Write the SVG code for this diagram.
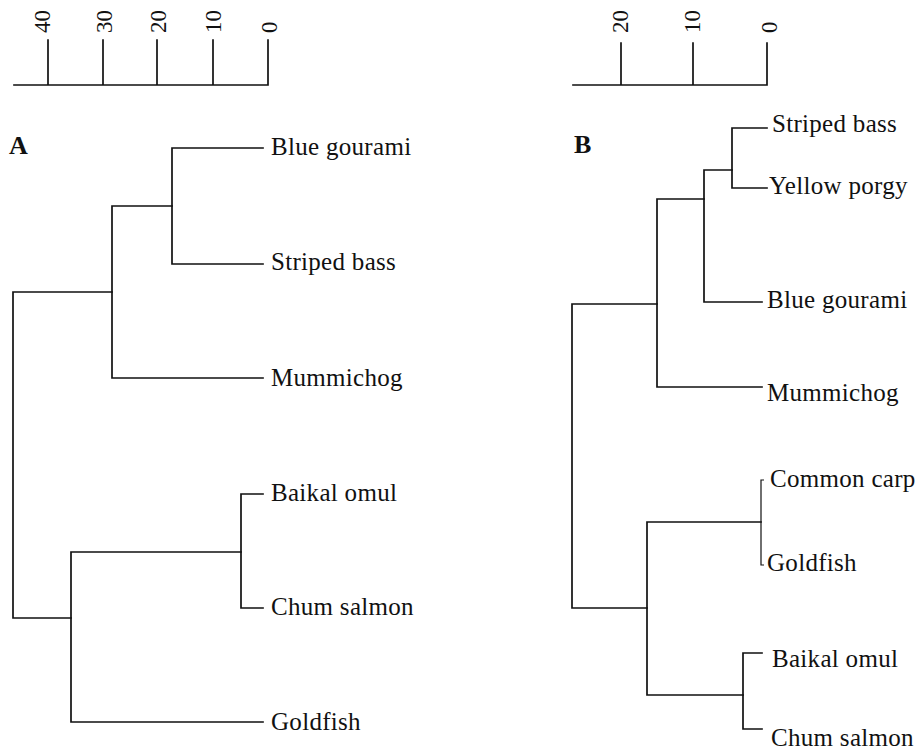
<svg xmlns="http://www.w3.org/2000/svg" width="921" height="750" viewBox="0 0 921 750">
<style>
  .ln { stroke: #111; stroke-width: 1.7; fill: none; stroke-linecap: square; }
  .thin { stroke: #111; stroke-width: 1.2; fill: none; }
  .lbl { font-family: "Liberation Serif", "Times New Roman", serif; font-size: 25px; fill: #111; letter-spacing: 0.3px; }
  .num { font-family: "Liberation Serif", "Times New Roman", serif; font-size: 23px; fill: #111; }
  .panel { font-family: "Liberation Serif", "Times New Roman", serif; font-size: 26px; font-weight: bold; fill: #111; }
</style>
<rect width="921" height="750" fill="#fff"/>

<!-- Scale A -->
<g id="scaleA">
  <path class="ln" d="M14 85 H268 M48 85 V40 M103 85 V40 M157 85 V40 M213 85 V40 M268 85 V40"/>
  <text class="num" transform="translate(50,33) rotate(-90)">40</text>
  <text class="num" transform="translate(112,33) rotate(-90)">30</text>
  <text class="num" transform="translate(166,33) rotate(-90)">20</text>
  <text class="num" transform="translate(221,33) rotate(-90)">10</text>
  <text class="num" transform="translate(277,33) rotate(-90)">0</text>
</g>

<!-- Scale B -->
<g id="scaleB">
  <path class="ln" d="M573 85 H767 M621 85 V43 M693 85 V43 M767 85 V43"/>
  <text class="num" transform="translate(628,33) rotate(-90)">20</text>
  <text class="num" transform="translate(700,33) rotate(-90)">10</text>
  <text class="num" transform="translate(777,33) rotate(-90)">0</text>
</g>

<g id="panelA"><text class="panel" x="9" y="154">A</text></g>
<g id="panelB"><text class="panel" x="574" y="153">B</text></g>

<!-- Connectors -->
<g id="connectors">
  <!-- Tree A -->
  <path class="ln" d="M172 148 H263 M172 148 V264 M172 264 H263"/>
  <path class="ln" d="M112 206 H172 M112 206 V378 M112 378 H263"/>
  <path class="ln" d="M13 292 H112 M13 292 V618 M13 618 H71"/>
  <path class="ln" d="M71 552 H241 M71 552 V722 M71 722 H263"/>
  <path class="ln" d="M241 494 H263 M241 494 V608 M241 608 H263"/>
  <!-- Tree B -->
  <path class="ln" d="M732 128 H767 M732 128 V188 M732 188 H767"/>
  <path class="ln" d="M704 170 H732 M704 170 V302 M704 302 H762"/>
  <path class="ln" d="M657 199 H704 M657 199 V387 M657 387 H762"/>
  <path class="ln" d="M572 304 H657 M572 304 V608 M572 608 H647"/>
  <path class="ln" d="M647 522 H761 M647 522 V695 M647 695 H743"/>
  <path class="thin" d="M764 480 H761 V565 H764"/>
  <path class="ln" d="M743 653 H762 M743 653 V729 M743 729 H762"/>
</g>

<!-- Leaf nodes A -->
<g id="A-blue-gourami"><text class="lbl" x="271" y="155">Blue gourami</text></g>
<g id="A-striped-bass"><text class="lbl" x="271" y="270">Striped bass</text></g>
<g id="A-mummichog"><text class="lbl" x="271" y="386">Mummichog</text></g>
<g id="A-baikal-omul"><text class="lbl" x="271" y="501">Baikal omul</text></g>
<g id="A-chum-salmon"><text class="lbl" x="271" y="615">Chum salmon</text></g>
<g id="A-goldfish"><text class="lbl" x="271" y="730">Goldfish</text></g>

<!-- Leaf nodes B -->
<g id="B-striped-bass"><text class="lbl" x="772" y="132">Striped bass</text></g>
<g id="B-yellow-porgy"><text class="lbl" x="769" y="194">Yellow porgy</text></g>
<g id="B-blue-gourami"><text class="lbl" x="767" y="308">Blue gourami</text></g>
<g id="B-mummichog"><text class="lbl" x="767" y="401">Mummichog</text></g>
<g id="B-common-carp"><text class="lbl" x="770" y="487">Common carp</text></g>
<g id="B-goldfish"><text class="lbl" x="767" y="571">Goldfish</text></g>
<g id="B-baikal-omul"><text class="lbl" x="772" y="667">Baikal omul</text></g>
<g id="B-chum-salmon"><text class="lbl" x="771" y="746">Chum salmon</text></g>
</svg>
